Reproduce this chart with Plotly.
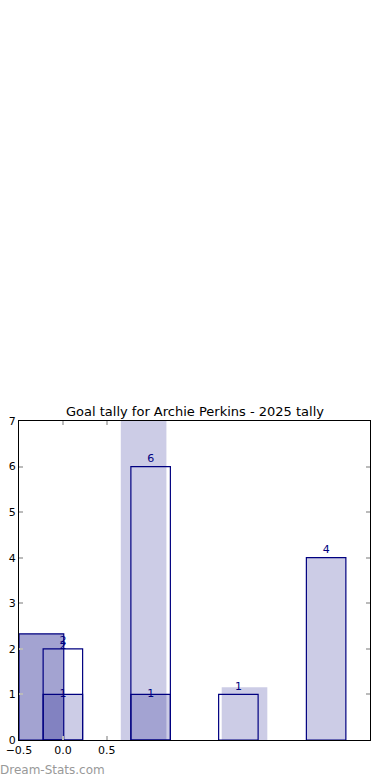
import plotly.graph_objects as go

# ---- data ----
outline_x = [0.0, 1.0, 2.0]
outline_h = [2, 6, 1]

filled_x = [0.0, 1.0, 3.0]
filled_h = [1, 1, 4]

wide_x = [0.92, 2.07]
wide_h = [8.0, 1.16]

dark_x = [-0.245]
dark_h = [2.33]

label_x = [0.0, 0.0, 0.0, 1.0, 1.0, 2.0, 3.0]
label_y = [2.17, 2.06, 1.0, 6.17, 1.0, 1.16, 4.17]
label_t = ["2", "2", "1", "6", "1", "1", "4"]

x_tickvals = [-0.5, 0.0, 0.5]
x_ticktext = ["\u22120.5", "0.0", "0.5"]
y_tickvals = [0, 1, 2, 3, 4, 5, 6, 7]

title = "Goal tally for Archie Perkins - 2025 tally"
watermark = "Dream-Stats.com"

NAVY = "#000080"
FILL = "rgba(0,0,128,0.2)"
FILL2 = "rgba(0,0,128,0.36)"

fig = go.Figure()
fig.add_trace(go.Bar(x=wide_x, y=wide_h, width=[0.52] * len(wide_x),
                     marker=dict(color=FILL, line=dict(width=0)), hoverinfo="skip"))
fig.add_trace(go.Bar(x=dark_x, y=dark_h, width=[0.51],
                     marker=dict(color=FILL2, line=dict(color=NAVY, width=1.2)), hoverinfo="skip"))
fig.add_trace(go.Bar(x=filled_x, y=filled_h, width=[0.45] * len(filled_x),
                     marker=dict(color=FILL, line=dict(color=NAVY, width=1.2)), hoverinfo="skip"))
fig.add_trace(go.Bar(x=outline_x, y=outline_h, width=[0.45] * len(outline_x),
                     marker=dict(color="rgba(0,0,0,0)", line=dict(color=NAVY, width=1.2)), hoverinfo="skip"))
fig.add_trace(go.Scatter(x=label_x, y=label_y, text=label_t, mode="text",
                         textposition="middle center",
                         textfont=dict(family="DejaVu Sans", size=11, color=NAVY),
                         hoverinfo="skip", cliponaxis=False))

fig.update_layout(
    width=390, height=780,
    barmode="overlay",
    showlegend=False,
    hovermode=False,
    plot_bgcolor="white", paper_bgcolor="white",
    margin=dict(l=19, r=20, t=421, b=40, autoexpand=False),
    font=dict(family="DejaVu Sans", size=11, color="black"),
    annotations=[
        dict(text=title, xref="paper", yref="paper", x=0.5, y=1.0,
             xanchor="center", yanchor="bottom", yshift=0, showarrow=False,
             font=dict(family="DejaVu Sans", size=13, color="black")),
        dict(text=watermark, xref="paper", yref="paper", x=0, y=-0.094,
             xanchor="left", yanchor="middle", xshift=-21, showarrow=False,
             font=dict(family="DejaVu Sans", size=12, color="#999999")),
    ],
)
fig.update_xaxes(range=[-0.5, 3.5], tickvals=x_tickvals, ticktext=x_ticktext,
                 ticks="inside", ticklen=4, tickcolor="#bbbbbb", tickwidth=1.5,
                 showline=True, linecolor="black", linewidth=1, mirror="allticks",
                 showgrid=False, zeroline=False, tickfont=dict(size=11),
                 automargin=False, fixedrange=True)
fig.update_yaxes(range=[0, 7], tickvals=y_tickvals,
                 ticks="inside", ticklen=4, tickcolor="#bbbbbb", tickwidth=1.5,
                 showline=True, linecolor="black", linewidth=1, mirror="allticks",
                 showgrid=False, zeroline=False, tickfont=dict(size=11),
                 automargin=False, fixedrange=True)

fig.write_html("out.html",
               config={"displayModeBar": False},
               post_script="document.body.style.margin='0';document.body.style.padding='0';")
